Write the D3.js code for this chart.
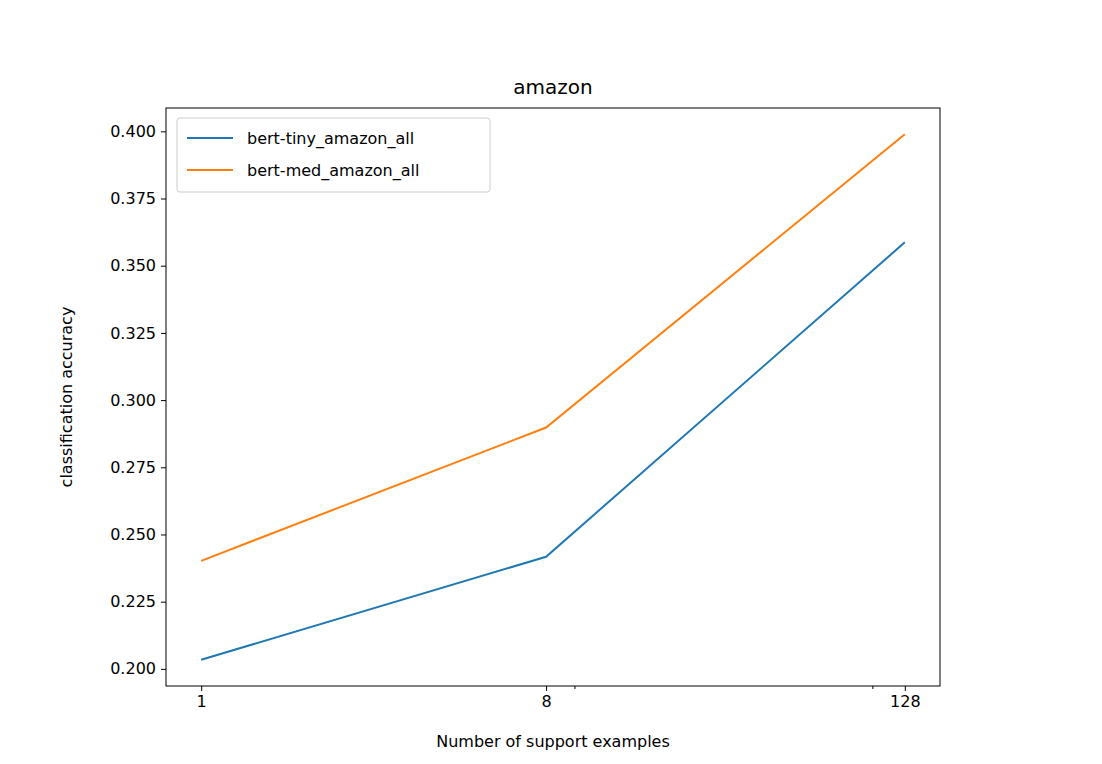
<!DOCTYPE html><html><head><meta charset="utf-8"><script src="https://cdn.jsdelivr.net/npm/d3@7"></script>
<style>body{margin:0;background:#fff}text{font-family:"DejaVu Sans",sans-serif}</style></head><body><svg id="c" width="1102" height="764"></svg>
<script>
const xValues=[1,8,128];
const xTickLabels=["1","8","128"];
const minorTicks=[10,100];
const seriesNames=["bert-tiny_amazon_all","bert-med_amazon_all"];
const tiny=[0.2034,0.2417,0.3587];
const med=[0.2402,0.2898,0.3989];
const yTicks=[0.200,0.225,0.250,0.275,0.300,0.325,0.350,0.375,0.400];
const colors=["#1f77b4","#ff7f0e"];
const L=166,R=940,T=108,B=686;
const tr=x=>x<=2?x*(1/0.9)/2:(1/0.9)+Math.log10(x/2);
const tx=xValues.map(tr),span=tx[2]-tx[0];
const xs=d3.scaleLinear().domain([tx[0]-span*0.05,tx[2]+span*0.05]).range([L,R]);
const all=tiny.concat(med),ymn=d3.min(all),ymx=d3.max(all),ys0=ymx-ymn;
const y=d3.scaleLinear().domain([ymn-ys0*0.05,ymx+ys0*0.05]).range([B,T]);
const x=v=>xs(tr(v));
const svg=d3.select("#c");
svg.append("g").attr("transform",`translate(0,${B})`).call(d3.axisBottom(d3.scaleLinear().domain(xs.domain()).range([L,R])).tickValues(xValues.map(tr)).tickFormat((d,i)=>xTickLabels[i]).tickSizeOuter(0).tickSize(5).tickPadding(5)).call(g=>g.select(".domain").remove()).selectAll("text").attr("font-size",16).attr("fill","#000");
svg.append("g").selectAll("line").data(minorTicks).join("line").attr("x1",x).attr("x2",x).attr("y1",B).attr("y2",B+3).attr("stroke","#000");
svg.append("g").attr("transform",`translate(${L},0)`).call(d3.axisLeft(y).tickValues(yTicks).tickFormat(d3.format(".3f")).tickSize(5).tickPadding(5)).call(g=>g.select(".domain").remove()).selectAll("text").attr("font-size",16).attr("fill","#000");
svg.append("rect").attr("x",L).attr("y",T).attr("width",R-L).attr("height",B-T).attr("fill","none").attr("stroke","#000");
const line=d3.line().x((d,i)=>x(xValues[i])).y(d=>y(d));
[tiny,med].forEach((s,i)=>svg.append("path").attr("d",line(s)).attr("fill","none").attr("stroke",colors[i]).attr("stroke-width",2));
svg.append("text").attr("x",(L+R)/2).attr("y",94).attr("text-anchor","middle").attr("font-size",20).text("amazon");
svg.append("text").attr("x",(L+R)/2).attr("y",747).attr("text-anchor","middle").attr("font-size",16).text("Number of support examples");
svg.append("text").attr("transform","translate(72,397) rotate(-90)").attr("text-anchor","middle").attr("font-size",16).text("classification accuracy");
const lg=svg.append("g");
lg.append("rect").attr("x",177).attr("y",118).attr("width",313).attr("height",74).attr("rx",3).attr("fill","#fff").attr("stroke","#ccc");
seriesNames.forEach((n,i)=>{const yy=138+i*32;lg.append("line").attr("x1",187).attr("x2",233).attr("y1",yy).attr("y2",yy).attr("stroke",colors[i]).attr("stroke-width",2);lg.append("text").attr("x",247).attr("y",yy+6).attr("font-size",16).text(n);});
</script></body></html>
